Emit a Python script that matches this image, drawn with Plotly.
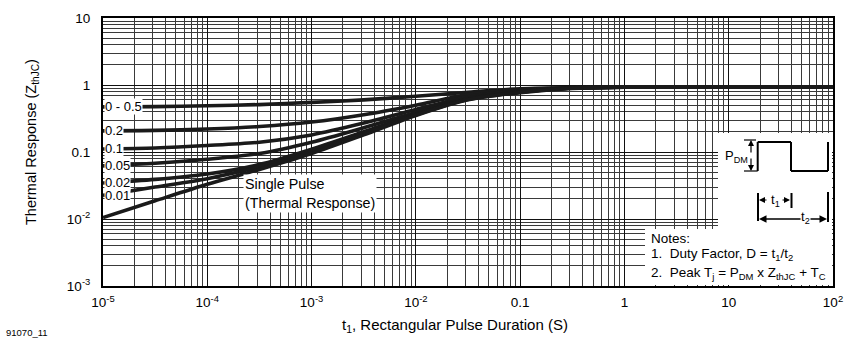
import plotly.graph_objects as go
import math

# ---------------- data ----------------
t_vals = [1e-5, 3.16e-5, 1e-4, 3.16e-4, 1e-3, 3.16e-3, 1e-2, 3.16e-2, 0.1, 0.316, 1, 10, 100]

duty_labels = ["0 - 0.5", "0.2", "0.1", "0.05", "0.02", "0.01"]
z_d05 = [0.47, 0.475, 0.49, 0.51, 0.55, 0.60, 0.68, 0.78, 0.88, 0.92, 0.93, 0.935, 0.935]
z_d02 = [0.207, 0.21, 0.22, 0.24, 0.28, 0.36, 0.50, 0.72, 0.85, 0.91, 0.93, 0.935, 0.935]
z_d01 = [0.111, 0.115, 0.125, 0.14, 0.18, 0.27, 0.43, 0.67, 0.82, 0.91, 0.93, 0.935, 0.935]
z_d005 = [0.062, 0.068, 0.078, 0.095, 0.14, 0.23, 0.39, 0.64, 0.80, 0.90, 0.93, 0.935, 0.935]
z_d002 = [0.0345, 0.039, 0.047, 0.065, 0.11, 0.20, 0.37, 0.62, 0.78, 0.90, 0.93, 0.935, 0.935]
z_d001 = [0.0225, 0.030, 0.040, 0.060, 0.10, 0.19, 0.36, 0.61, 0.78, 0.90, 0.93, 0.935, 0.935]
z_single = [0.0105, 0.0187, 0.033, 0.055, 0.095, 0.18, 0.35, 0.60, 0.77, 0.89, 0.93, 0.935, 0.935]
duty_series = [z_d05, z_d02, z_d01, z_d005, z_d002, z_d001]

x_tickvals = [1e-5, 1e-4, 1e-3, 1e-2, 0.1, 1, 10, 100]
x_ticktext = ["10<sup>-5</sup>", "10<sup>-4</sup>", "10<sup>-3</sup>", "10<sup>-2</sup>",
              "0.1", "1", "10", "10<sup>2</sup>"]
y_tickvals = [1e-3, 1e-2, 0.1, 1, 10]
y_ticktext = ["10<sup>-3</sup>", "10<sup>-2</sup>", "0.1", "1", "10"]

FONT = "Liberation Sans, Arial, Helvetica, sans-serif"
W, H = 864, 351
L, R, T, B = 103, 31, 18, 65
PW, PH = W - L - R, H - T - B


def px(x):
    return (x - L) / PW


def py(y):
    return (H - B - y) / PH


fig = go.Figure()
for z in duty_series + [z_single]:
    fig.add_trace(go.Scatter(x=t_vals, y=z, mode="lines",
                             line=dict(color="#1a1a1a", width=3.6, shape="spline", smoothing=0.8),
                             showlegend=False, hoverinfo="skip"))

minor_x = [k * 10 ** e for e in range(-5, 2) for k in range(2, 10)]
minor_y = [k * 10 ** e for e in range(-3, 1) for k in range(2, 10)]

fig.update_xaxes(type="log", range=[-5, 2], tickmode="array", tickvals=x_tickvals, ticktext=x_ticktext,
                 showgrid=True, gridcolor="#111111", gridwidth=1,
                 minor=dict(tickmode="array", tickvals=minor_x, showgrid=True, gridcolor="#3a3a3a", gridwidth=1),
                 showline=True, linecolor="black", linewidth=2, mirror=True, zeroline=False,
                 ticks="", tickfont=dict(family=FONT, size=13.5, color="black"), ticklabelstandoff=3)
fig.update_yaxes(type="log", range=[-3, 1], tickmode="array", tickvals=y_tickvals, ticktext=y_ticktext,
                 showgrid=True, gridcolor="#111111", gridwidth=1,
                 minor=dict(tickmode="array", tickvals=minor_y, showgrid=True, gridcolor="#3a3a3a", gridwidth=1),
                 showline=True, linecolor="black", linewidth=2, mirror=True, zeroline=False,
                 ticks="", tickfont=dict(family=FONT, size=13.5, color="black"), ticklabelstandoff=8)

annotations = []


def txt_ann(x, y, text, size=13, xanchor="center", yanchor="middle", **kw):
    d = dict(x=x, y=y, xref="paper", yref="paper", text=text, showarrow=False,
             xanchor=xanchor, yanchor=yanchor, font=dict(family=FONT, size=size, color="black"))
    d.update(kw)
    return d


# duty-factor labels at the start of each curve
for lab, z in zip(duty_labels, duty_series):
    annotations.append(dict(x=math.log10(t_vals[0]), y=math.log10(z[0]), xref="x", yref="y",
                            text=lab, showarrow=False, xanchor="left", yanchor="middle", xshift=1,
                            bgcolor="white", borderpad=0,
                            font=dict(family=FONT, size=13, color="black")))

annotations.append(dict(x=-3.66, y=-1.62, xref="x", yref="y",
                        text="Single Pulse<br>(Thermal Response)", showarrow=False,
                        xanchor="left", yanchor="middle", align="left", bgcolor="white", borderpad=1,
                        font=dict(family=FONT, size=14.3, color="black")))

# notes
notes = ["Notes:",
         "1.\u00a0\u00a0Duty Factor, D = t<sub>1</sub>/t<sub>2</sub>",
         "2.\u00a0\u00a0Peak T<sub>j</sub> = P<sub>DM</sub> x Z<sub>thJC</sub> + T<sub>C</sub>"]
for txt, yy in zip(notes, [238, 255, 273]):
    annotations.append(txt_ann(px(649), py(yy), txt, size=13.5, xanchor="left"))

# pulse diagram texts
annotations.append(txt_ann(px(736), py(156), "P<sub>DM</sub>", size=13))
# P_DM double arrow
for y_tip, ay in [(140, 14), (171, -14)]:
    annotations.append(dict(x=px(751), y=py(y_tip), xref="paper", yref="paper", ax=0, ay=ay, text="",
                            showarrow=True, arrowhead=2, arrowsize=1, arrowwidth=1.2, arrowcolor="black"))
# t1 arrows
for x_tip, ax in [(759, 9), (790, -9)]:
    annotations.append(dict(x=px(x_tip), y=py(200), xref="paper", yref="paper", ax=ax, ay=0, text="",
                            showarrow=True, arrowhead=2, arrowsize=1, arrowwidth=1.2, arrowcolor="black"))
annotations.append(txt_ann(px(775), py(201), "t<sub>1</sub>", size=13))
# t2 arrows
for x_tip, ax in [(759, 45), (827, -23)]:
    annotations.append(dict(x=px(x_tip), y=py(219), xref="paper", yref="paper", ax=ax, ay=0, text="",
                            showarrow=True, arrowhead=2, arrowsize=1, arrowwidth=1.5, arrowcolor="black"))
annotations.append(txt_ann(px(805), py(218), "t<sub>2</sub>", size=13, bgcolor="white", borderpad=0))

# axis titles and figure id
annotations.append(txt_ann(px(455), py(325), "t<sub>1</sub>, Rectangular Pulse Duration (S)", size=15))
annotations.append(txt_ann(px(32), py(142), "Thermal Response (Z<sub>thJC</sub>)", size=14.5, textangle=-90))
annotations.append(txt_ann(px(4), py(332), "91070_11", size=9.5, xanchor="left"))

shapes = [
    dict(type="rect", xref="paper", yref="paper", x0=px(645), x1=px(832), y0=py(285), y1=py(229),
         fillcolor="white", line=dict(width=0), layer="above"),
    dict(type="rect", xref="paper", yref="paper", x0=px(718), x1=px(832), y0=py(229), y1=py(133),
         fillcolor="white", line=dict(width=0), layer="above"),
]


def seg(x0, y0, x1, y1, w=2):
    return dict(type="line", xref="paper", yref="paper", x0=px(x0), y0=py(y0), x1=px(x1), y1=py(y1),
                line=dict(color="black", width=w), layer="above")


# square wave
shapes += [seg(757.7, 171, 757.7, 142), seg(757.7, 142, 791, 142), seg(791, 142, 791, 171),
           seg(791, 171, 828, 171), seg(828, 171, 828, 142)]
# P_DM caps
shapes += [seg(744, 140, 756, 140, 1.2), seg(744, 171, 757.7, 171, 1.2)]
# t bars
shapes += [seg(758, 193, 758, 221), seg(791.5, 193, 791.5, 208), seg(828, 192, 828, 222)]

fig.update_layout(width=W, height=H, margin=dict(l=L, r=R, t=T, b=B),
                  paper_bgcolor="white", plot_bgcolor="white",
                  annotations=annotations, shapes=shapes, showlegend=False,
                  font=dict(family=FONT, color="black"))

fig.write_html("out.html")
